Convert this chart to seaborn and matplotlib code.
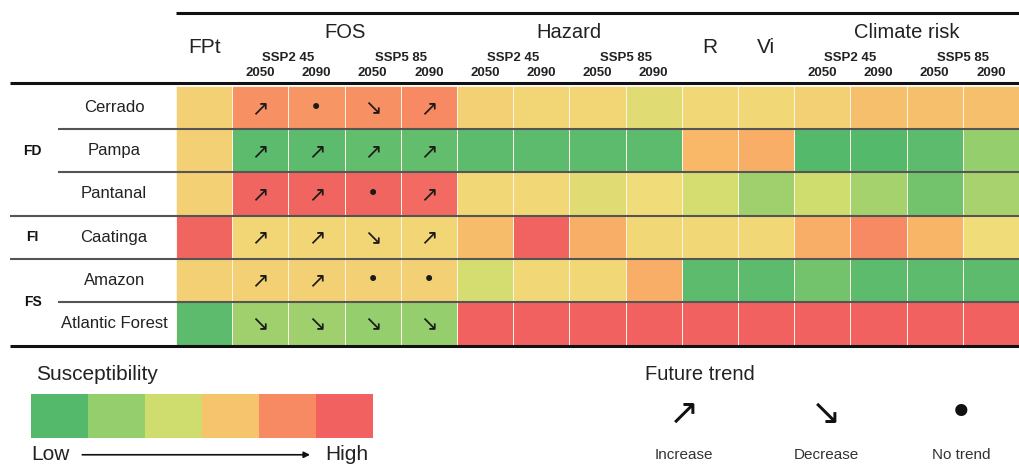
import numpy as np
import pandas as pd
import matplotlib
matplotlib.use("Agg")
import matplotlib.pyplot as plt
import seaborn as sns
from matplotlib.colors import LinearSegmentedColormap

# ---- data (0 = low susceptibility, 1 = high) ----
biomes = ["Cerrado", "Pampa", "Pantanal", "Caatinga", "Amazon", "Atlantic Forest"]
columns = ["FPt",
           "FOS_245_2050", "FOS_245_2090", "FOS_585_2050", "FOS_585_2090",
           "HZ_245_2050", "HZ_245_2090", "HZ_585_2050", "HZ_585_2090",
           "R", "Vi",
           "CR_245_2050", "CR_245_2090", "CR_585_2050", "CR_585_2090"]

fpt = [0.55, 0.55, 0.55, 0.95, 0.55, 0.05]
fos = [[0.78, 0.76, 0.78, 0.80],
       [0.05, 0.05, 0.07, 0.07],
       [0.95, 0.95, 0.95, 0.93],
       [0.53, 0.53, 0.53, 0.53],
       [0.55, 0.55, 0.55, 0.55],
       [0.25, 0.25, 0.22, 0.22]]
hazard = [[0.55, 0.53, 0.53, 0.45],
          [0.05, 0.05, 0.05, 0.05],
          [0.52, 0.52, 0.45, 0.50],
          [0.63, 0.96, 0.68, 0.52],
          [0.42, 0.52, 0.52, 0.68],
          [0.97, 0.97, 0.97, 0.97]]
resil = [0.52, 0.65, 0.42, 0.52, 0.05, 0.97]
vuln = [0.52, 0.68, 0.25, 0.52, 0.05, 0.97]
climate_risk = [[0.55, 0.62, 0.62, 0.62],
                [0.03, 0.03, 0.05, 0.22],
                [0.40, 0.27, 0.12, 0.28],
                [0.68, 0.80, 0.66, 0.50],
                [0.12, 0.05, 0.05, 0.05],
                [0.97, 0.97, 0.97, 0.97]]

# future trend of FOS: u = increase, d = decrease, n = no trend
fos_trend = [["u", "n", "d", "u"],
             ["u", "u", "u", "u"],
             ["u", "u", "n", "u"],
             ["u", "u", "d", "u"],
             ["u", "u", "n", "n"],
             ["d", "d", "d", "d"]]

# group label and its vertical centre (in rows)
groups = [("FD", 1.5), ("FI", 3.5), ("FS", 5.0)]
legend_levels = [0.03, 0.22, 0.40, 0.60, 0.80, 0.97]

# ---- build table ----
vals = np.column_stack([fpt, fos, hazard, resil, vuln, climate_risk])
df = pd.DataFrame(vals, index=biomes, columns=columns)

symbols = {"u": "\u2197", "d": "\u2198", "n": "\u2022"}
annot = np.full(df.shape, "", dtype=object)
for i, row in enumerate(fos_trend):
    for j, t in enumerate(row):
        annot[i, 1 + j] = symbols[t]

cmap = LinearSegmentedColormap.from_list(
    "susc", [(0.0, "#4cb66c"), (0.2, "#8fcc6c"), (0.4, "#cfdc6e"),
             (0.5, "#f0dc78"), (0.65, "#f8b868"), (0.8, "#f78a62"),
             (1.0, "#ef5a60")])

sns.set_theme(style="white")
plt.rcParams["font.family"] = ["Liberation Sans", "DejaVu Sans"]

fig = plt.figure(figsize=(10.19, 4.65), dpi=100)
ax = fig.add_axes([0.1727, 0.258, 0.8273, 0.557])
sns.heatmap(df, ax=ax, cmap=cmap, vmin=0, vmax=1, cbar=False,
            annot=annot, fmt="", linewidths=0.7, linecolor="#fbf3e6",
            annot_kws={"fontsize": 15, "color": "#1a1a1a",
                       "family": ["DejaVu Sans"]})
ax.set_xticks([])
ax.set_yticks([])
ax.set_xlabel("")
ax.set_ylabel("")
for s in ax.spines.values():
    s.set_visible(False)

# horizontal rules
kw = dict(clip_on=False, solid_capstyle="butt")
ax.plot([0, 15], [-1.69, -1.69], color="#111111", lw=2.2, **kw)
ax.plot([-2.95, 15], [-0.06, -0.06], color="#111111", lw=2.2, **kw)
ax.plot([-2.95, 15], [6.03, 6.03], color="#111111", lw=2.2, **kw)
for yb, x0 in [(1, -2.1), (2, -2.1), (3, -2.95), (4, -2.95), (5, -2.1)]:
    ax.plot([x0, 15], [yb, yb], color="#555555", lw=1.5, **kw)

# row labels
for i, b in enumerate(biomes):
    ax.text(-1.1, i + 0.5, b, ha="center", va="center", fontsize=12,
            color="#222222")
for g, yc in groups:
    ax.text(-2.55, yc, g, ha="center", va="center", fontsize=10,
            fontweight="bold", color="#111111")

# column headers
hdr = dict(ha="center", va="center", color="#222222")
ax.text(0.5, -0.9, "FPt", fontsize=15, **hdr)
ax.text(9.5, -0.9, "R", fontsize=15, **hdr)
ax.text(10.5, -0.9, "Vi", fontsize=15, **hdr)
for name, start in [("FOS", 1), ("Hazard", 5), ("Climate risk", 11)]:
    ax.text(start + 2, -1.25, name, fontsize=14.5, **hdr)
    for k, ssp in enumerate(["SSP2 45", "SSP5 85"]):
        ax.text(start + 2 * k + 1, -0.66, ssp, fontsize=9.5,
                fontweight="bold", **hdr)
        for m, yr in enumerate(["2050", "2090"]):
            ax.text(start + 2 * k + m + 0.5, -0.3, yr, fontsize=9.5,
                    fontweight="bold", **hdr)

# ---- susceptibility legend ----
lax = fig.add_axes([0.0304, 0.058, 0.3356, 0.0946])
sns.heatmap(np.array([legend_levels]), ax=lax, cmap=cmap, vmin=0, vmax=1,
            cbar=False, linewidths=0)
lax.set_xticks([])
lax.set_yticks([])
fig.text(0.035, 0.195, "Susceptibility", fontsize=15, color="#222222",
         va="center")
fig.text(0.031, 0.022, "Low", fontsize=15, color="#222222", va="center")
fig.text(0.319, 0.022, "High", fontsize=15, color="#222222", va="center")
fig.add_artist(matplotlib.patches.FancyArrowPatch(
    (0.078, 0.022), (0.307, 0.022), transform=fig.transFigure,
    arrowstyle="-|>", mutation_scale=9, lw=1.2, color="#111111"))

# ---- future trend legend ----
fig.text(0.633, 0.195, "Future trend", fontsize=14.5, color="#222222",
         va="center")
for x, key, lab in [(0.671, "u", "Increase"), (0.811, "d", "Decrease"),
                    (0.943, "n", "No trend")]:
    fig.text(x, 0.11, symbols[key], fontsize=26 if key != "n" else 30,
             ha="center", va="center", color="#111111",
             family=["DejaVu Sans"])
    fig.text(x, 0.022, lab, fontsize=11, ha="center", va="center",
             color="#333333")

fig.savefig("out.png", dpi=100)
